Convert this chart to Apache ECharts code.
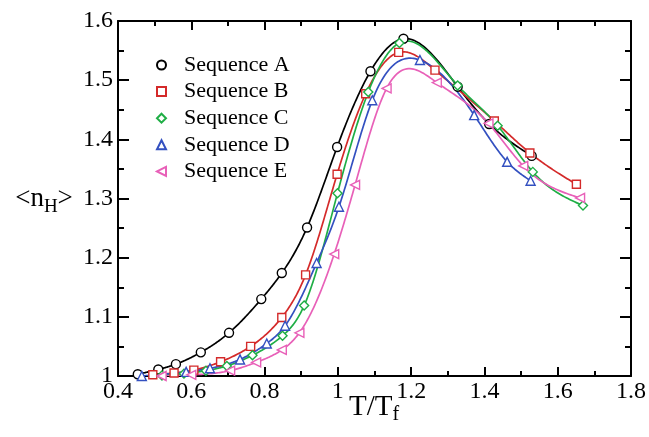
<!DOCTYPE html>
<html>
<head>
<meta charset="utf-8">
<script src="https://cdn.jsdelivr.net/npm/echarts@6/dist/echarts.min.js"></script>
<style>html,body{margin:0;padding:0;background:#fff;}#c{width:649px;height:437px;}</style>
</head>
<body>
<div id="c"></div>
<script>
// ---- data ----
const seriesNames = ['Sequence A', 'Sequence B', 'Sequence C', 'Sequence D', 'Sequence E'];

const seqA_x = [0.454, 0.510, 0.558, 0.626, 0.703, 0.791, 0.847, 0.916, 0.998, 1.089, 1.179, 1.327, 1.413, 1.529];
const seqA_y = [1.003, 1.011, 1.020, 1.040, 1.073, 1.130, 1.174, 1.251, 1.387, 1.515, 1.570, 1.489, 1.426, 1.372];

const seqB_x = [0.495, 0.553, 0.607, 0.680, 0.762, 0.847, 0.912, 0.998, 1.076, 1.166, 1.265, 1.427, 1.524, 1.651];
const seqB_y = [1.002, 1.005, 1.010, 1.024, 1.050, 1.099, 1.171, 1.341, 1.477, 1.547, 1.517, 1.431, 1.377, 1.324];

const seqC_x = [0.520, 0.580, 0.640, 0.697, 0.767, 0.849, 0.908, 0.999, 1.083, 1.168, 1.327, 1.436, 1.532, 1.669];
const seqC_y = [1.001, 1.004, 1.009, 1.017, 1.035, 1.068, 1.119, 1.309, 1.480, 1.563, 1.491, 1.423, 1.345, 1.288];

const seqD_x = [0.465, 0.586, 0.651, 0.733, 0.806, 0.856, 0.942, 1.003, 1.094, 1.224, 1.372, 1.462, 1.526];
const seqD_y = [1.000, 1.007, 1.013, 1.028, 1.055, 1.085, 1.191, 1.286, 1.466, 1.534, 1.441, 1.362, 1.330];

const seqE_x = [0.519, 0.600, 0.706, 0.777, 0.847, 0.895, 0.990, 1.047, 1.133, 1.270, 1.411, 1.506, 1.661];
const seqE_y = [1.000, 1.002, 1.009, 1.023, 1.044, 1.073, 1.206, 1.323, 1.486, 1.496, 1.427, 1.355, 1.301];

const xTicks = [0.4, 0.6, 0.8, 1.0, 1.2, 1.4, 1.6, 1.8];
const yTicks = [1.0, 1.1, 1.2, 1.3, 1.4, 1.5, 1.6];

// ---- styling ----
const colors = ['#000000', '#d42a2a', '#1fae45', '#3350c0', '#e860b8'];
const symbols = ['circle', 'rect', 'diamond', 'triangle', 'path://M0,5L10,0L10,10Z'];
const symbolSizes = [9, 8, 9, 9, 9];
const xs = [seqA_x, seqB_x, seqC_x, seqD_x, seqE_x];
const ys = [seqA_y, seqB_y, seqC_y, seqD_y, seqE_y];

const FONT = 'Liberation Serif';

function zip(a, b) { return a.map((v, i) => [v, b[i]]); }

// natural cubic spline (second derivatives) for y(x)
function splineM(x, y) {
  const n = x.length, M = new Array(n).fill(0);
  if (n < 3) return M;
  const a = [], b = [], c = [], d = [];
  for (let i = 1; i < n - 1; i++) {
    const h0 = x[i] - x[i - 1], h1 = x[i + 1] - x[i];
    a.push(h0); b.push(2 * (h0 + h1)); c.push(h1);
    d.push(6 * ((y[i + 1] - y[i]) / h1 - (y[i] - y[i - 1]) / h0));
  }
  const m = b.length;
  for (let i = 1; i < m; i++) {
    const w = a[i] / b[i - 1];
    b[i] -= w * c[i - 1]; d[i] -= w * d[i - 1];
  }
  const sol = new Array(m);
  sol[m - 1] = d[m - 1] / b[m - 1];
  for (let i = m - 2; i >= 0; i--) sol[i] = (d[i] - c[i] * sol[i + 1]) / b[i];
  for (let i = 0; i < m; i++) M[i + 1] = sol[i];
  return M;
}
function splineEval(x, y, M, i, t) {
  const h = x[i + 1] - x[i];
  const A = (x[i + 1] - t) / h, B = (t - x[i]) / h;
  return A * y[i] + B * y[i + 1] + ((A * A * A - A) * M[i] + (B * B * B - B) * M[i + 1]) * h * h / 6;
}

// smooth curves through the data points, positioned via api.coord
const curveSeries = seriesNames.map((name, k) => ({
  name: name,
  type: 'custom',
  xAxisIndex: 0,
  yAxisIndex: 0,
  z: 2,
  clip: true,
  silent: true,
  data: zip(xs[k], ys[k]),
  renderItem: function (params, api) {
    if (params.dataIndex !== 0) return null;
    const X = xs[k], Y = ys[k], M = splineM(X, Y);
    const pts = [];
    for (let i = 0; i < X.length - 1; i++) {
      const steps = 30;
      for (let s = 0; s < steps; s++) {
        const t = X[i] + (X[i + 1] - X[i]) * s / steps;
        pts.push(api.coord([t, splineEval(X, Y, M, i, t)]));
      }
    }
    pts.push(api.coord([X[X.length - 1], Y[Y.length - 1]]));
    return {
      type: 'polyline',
      shape: { points: pts },
      style: { stroke: colors[k], lineWidth: 1.7, fill: null }
    };
  },
  animation: false
}));

const markerSeries = seriesNames.map((name, i) => ({
  name: name,
  type: 'scatter',
  xAxisIndex: 0,
  yAxisIndex: 0,
  z: 5,
  data: zip(xs[i], ys[i]),
  symbol: symbols[i],
  symbolSize: symbolSizes[i],
  itemStyle: { color: '#ffffff', borderColor: colors[i], borderWidth: 1.4, opacity: 1 },
  emphasis: { disabled: true },
  animation: false
}));

const fmt = v => String(+(+v).toFixed(1));

function xAx(pos, showLabel) {
  return {
    type: 'value', position: pos, min: xTicks[0], max: xTicks[xTicks.length - 1], interval: 0.2,
    splitLine: { show: false },
    axisLine: { show: true, onZero: false, lineStyle: { color: '#000', width: 2 } },
    axisTick: { show: true, inside: true, length: 9, lineStyle: { color: '#000', width: 2 } },
    minorTick: { show: true, splitNumber: 2, length: 5, lineStyle: { color: '#000', width: 2 } },
    axisLabel: { show: showLabel, formatter: fmt, fontFamily: FONT, fontSize: 24, color: '#000', margin: 4 }
  };
}
function yAx(pos, showLabel) {
  return {
    type: 'value', position: pos, min: yTicks[0], max: yTicks[yTicks.length - 1], interval: 0.1,
    splitLine: { show: false },
    axisLine: { show: true, onZero: false, lineStyle: { color: '#000', width: 2 } },
    axisTick: { show: true, inside: true, length: 11, lineStyle: { color: '#000', width: 2 } },
    minorTick: { show: true, splitNumber: 2, length: 6, lineStyle: { color: '#000', width: 2 } },
    axisLabel: { show: showLabel, formatter: fmt, fontFamily: FONT, fontSize: 24, color: '#000', margin: 5 }
  };
}

const option = {
  backgroundColor: '#ffffff',
  animation: false,
  textStyle: { fontFamily: FONT },
  grid: { left: 118, right: 18, top: 21, bottom: 61, containLabel: false },
  xAxis: [xAx('bottom', true), xAx('top', false)],
  yAxis: [yAx('left', true), yAx('right', false)],
  legend: {
    orient: 'vertical',
    left: 151,
    top: 49,
    itemWidth: 9,
    itemHeight: 9,
    itemGap: 4.6,
    selectedMode: false,
    data: seriesNames.map((n, i) => ({ name: n, icon: symbols[i] })),
    textStyle: { fontFamily: FONT, fontSize: 22, color: '#000', lineHeight: 22, padding: [0, 0, 0, 13] }
  },
  graphic: [
    {
      type: 'text', x: 44, y: 199,
      style: {
        text: '{a|<n}{b|H}{a|>}',
        fontFamily: FONT, fontSize: 27,
        align: 'center', verticalAlign: 'middle',
        rich: {
          a: { fontFamily: FONT, fontSize: 27, fill: '#000' },
          b: { fontFamily: FONT, fontSize: 19, fill: '#000', padding: [16, 0, 0, 0] }
        }
      }
    },
    {
      type: 'text', x: 374, y: 407,
      style: {
        text: '{a|T/T}{b|f}',
        fontFamily: FONT, fontSize: 29,
        align: 'center', verticalAlign: 'middle',
        rich: {
          a: { fontFamily: FONT, fontSize: 29, fill: '#000' },
          b: { fontFamily: FONT, fontSize: 20, fill: '#000', padding: [16, 0, 0, 0] }
        }
      }
    }
  ],
  series: markerSeries.concat(curveSeries)
};

const chart = echarts.init(document.getElementById('c'), null, { renderer: 'canvas' });
chart.setOption(option);
</script>
</body>
</html>
